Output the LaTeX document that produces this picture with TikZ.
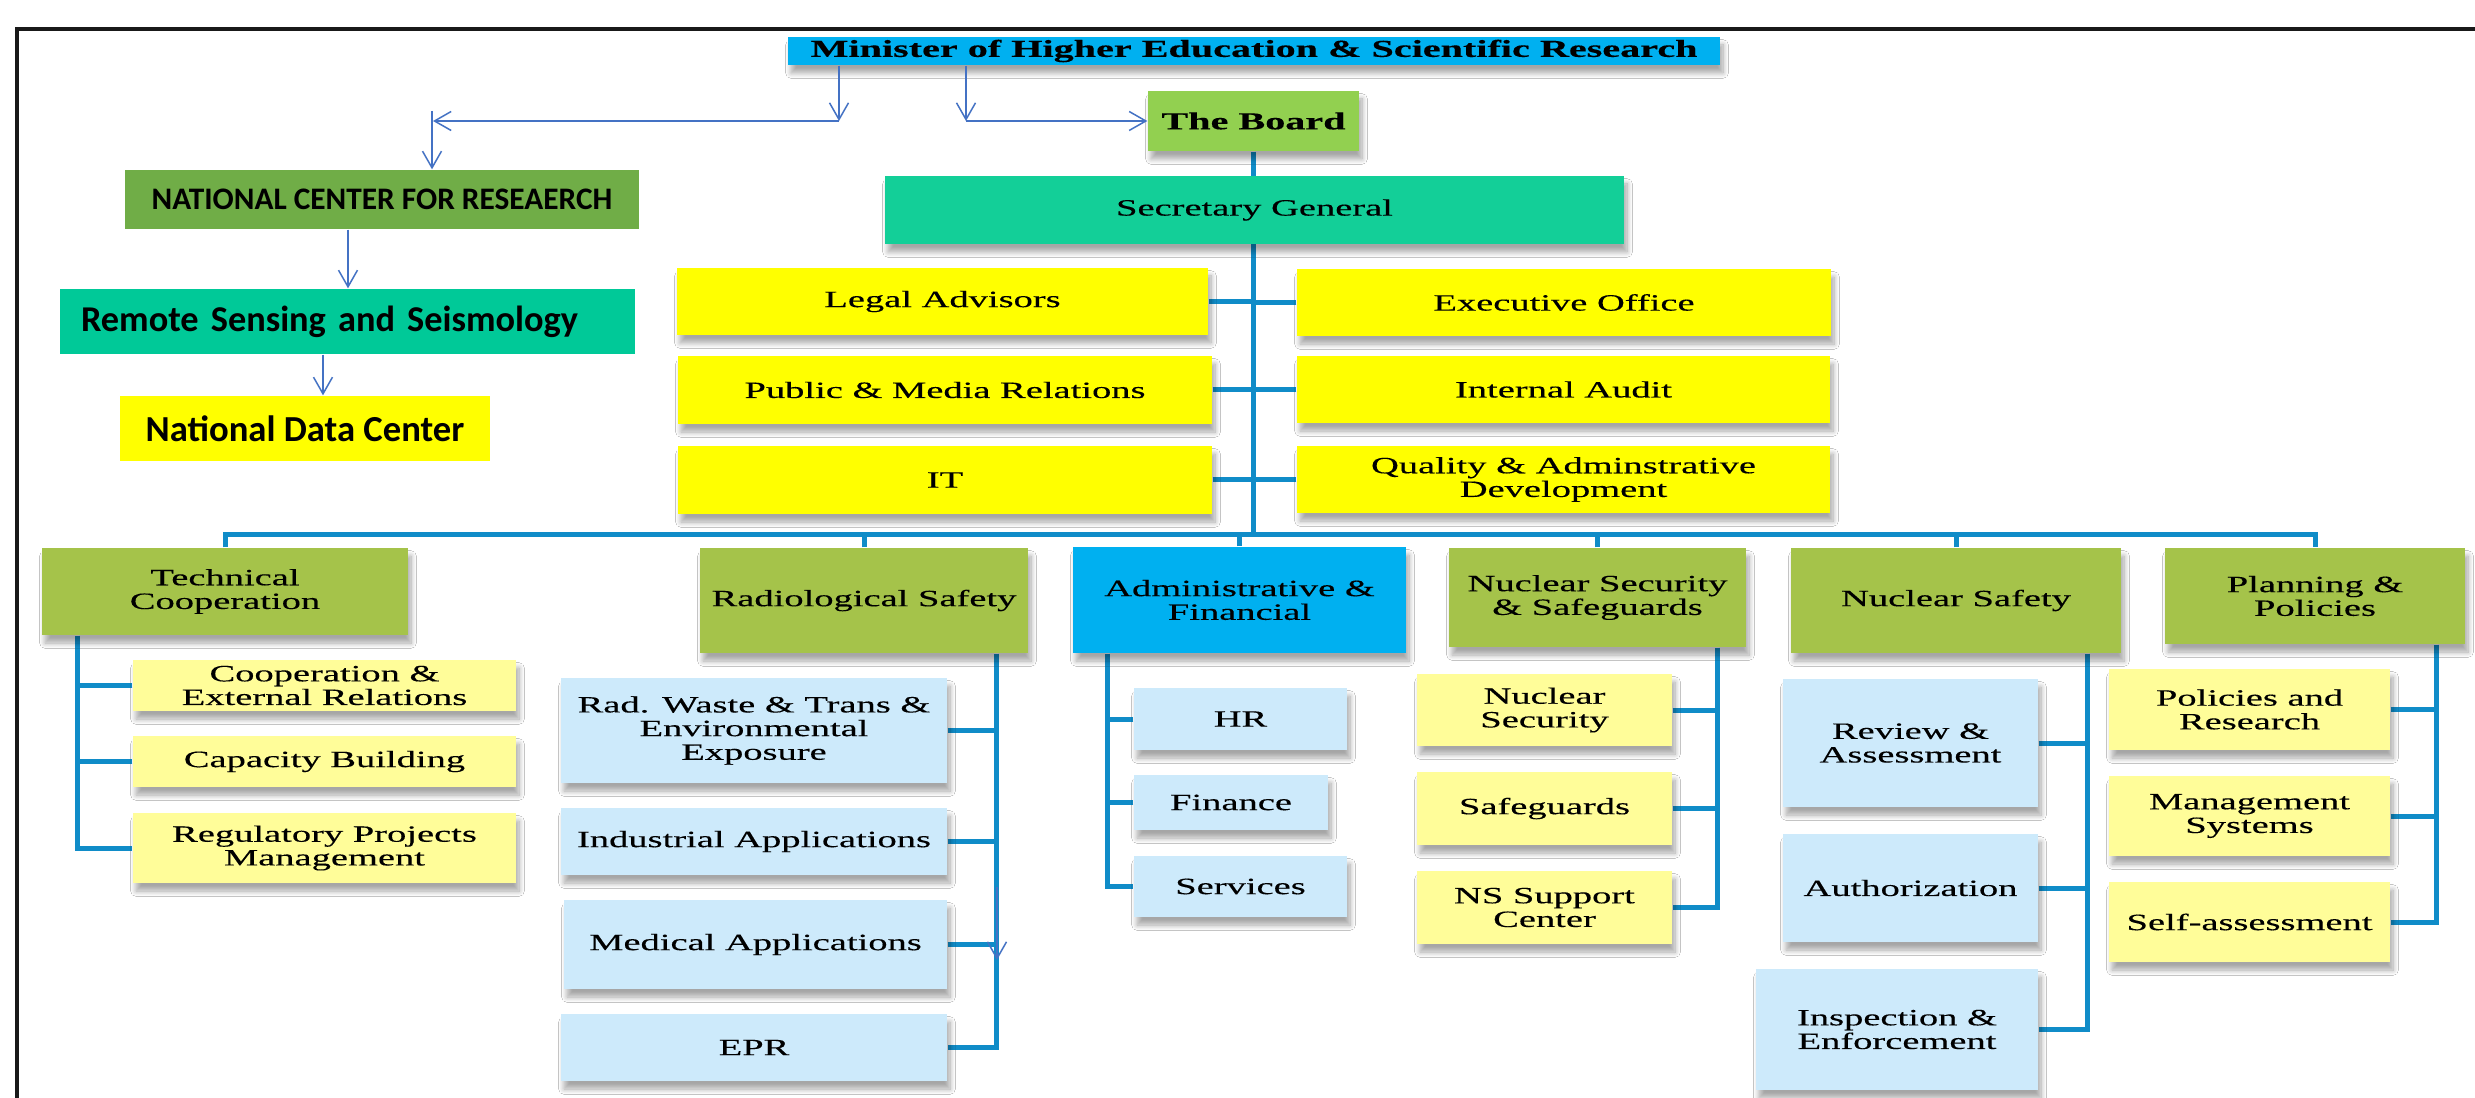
\documentclass[tikz,border=0pt]{standalone}
\usepackage{fontspec}
\newfontfamily\wserif{Liberation Serif}[FakeStretch=1.65, FakeBold=0.3]
\newfontfamily\carlfont{Carlito}
\usetikzlibrary{arrows.meta,backgrounds,shadows.blur}
\definecolor{cyanbox}{HTML}{00B0F0}
\definecolor{boardgreen}{HTML}{92D050}
\definecolor{sgteal}{HTML}{13CF98}
\definecolor{yel}{HTML}{FFFF00}
\definecolor{olive}{HTML}{A5C34A}
\definecolor{lightyel}{HTML}{FFFD99}
\definecolor{lightblue}{HTML}{CDEAFB}
\definecolor{ncrgreen}{HTML}{70AD47}
\definecolor{rssteal}{HTML}{00C998}
\definecolor{lineblue}{HTML}{108CC8}
\definecolor{arrowblue}{HTML}{4472C4}
\newcommand\bx[7]{\node[#2, minimum width={((#5)-(#3))*0.3pt}, minimum height={((#6)-(#4))*0.3pt}] (#1) at ({((#3)+(#5))/2},{((#4)+(#6))/2}) {#7};}
\begin{document}
\begin{tikzpicture}[x=0.3pt,y=-0.3pt,
  box/.style={inner sep=0pt, align=center, text=black, font=\wserif\fontsize{7}{7.1}\selectfont},
  topb/.style={box, font=\wserif\bfseries\fontsize{7.3}{8}\selectfont},
  lbox/.style={inner sep=0pt, align=center, text=black},
  shd/.style={blur shadow={shadow xshift=0.9pt, shadow yshift=-2.4pt, shadow blur steps=8, shadow blur radius=1.6pt, shadow opacity=35}},
  conn/.style={draw=lineblue, line width=1.5pt, line join=miter},
  arr/.style={draw=arrowblue, line width=0.45pt, -{Straight Barb[length=5pt,width=5.7pt]}},
  framel/.style={draw=black!90, line width=1pt}]
\useasboundingbox (0,0) rectangle (2475,1098);
\draw[framel] (17,1098) -- (17,29) -- (2475,29);
% top
\bx{minister}{topb,fill=cyanbox,shd}{788}{37}{1720}{65}{Minister of Higher Education \& Scientific Research}
\bx{board}{topb,fill=boardgreen,shd}{1148}{91}{1359}{151}{The Board}
\bx{sg}{box,fill=sgteal,shd}{885}{176}{1624}{244}{Secretary General}
\bx{legal}{box,fill=yel,shd}{677}{268}{1208}{335}{Legal Advisors}
\bx{pmr}{box,fill=yel,shd}{678}{356}{1212}{424}{Public \& Media Relations}
\bx{it}{box,fill=yel,shd}{678}{446}{1212}{514}{IT}
\bx{exec}{box,fill=yel,shd}{1297}{269}{1831}{336}{Executive Office}
\bx{audit}{box,fill=yel,shd}{1297}{356}{1830}{423}{Internal Audit}
\bx{qad}{box,fill=yel,shd}{1297}{446}{1830}{513}{Quality \& Adminstrative\\Development}
% left
\bx{ncr}{lbox,fill=ncrgreen,font=\carlfont\bfseries\fontsize{9.4}{11}\selectfont}{125}{170}{639}{229}{NATIONAL CENTER FOR RESEAERCH}
\node[lbox, fill=rssteal, font=\carlfont\bfseries\fontsize{10.9}{13}\selectfont, align=left, text width=159.9pt, inner xsep=6.3pt, inner ysep=0pt, minimum height=19.5pt] (rss) at (347.5,321.5) {Remote Sensing and Seismology};
\bx{ndc}{lbox,fill=yel,font=\carlfont\bfseries\fontsize{11}{13}\selectfont}{120}{396}{490}{461}{National Data Center}
% level 2
\bx{tc}{box,fill=olive,shd}{42}{548}{408}{635}{Technical\\Cooperation}
\bx{rs}{box,fill=olive,shd}{700}{548}{1028}{653}{Radiological Safety}
\bx{af}{box,fill=cyanbox,shd}{1073}{547}{1406}{653}{Administrative \&\\Financial}
\bx{nss}{box,fill=olive,shd}{1449}{548}{1746}{647}{Nuclear Security\\\& Safeguards}
\bx{nsaf}{box,fill=olive,shd}{1791}{548}{2121}{653}{Nuclear Safety}
\bx{pp}{box,fill=olive,shd}{2165}{548}{2465}{644}{Planning \&\\Policies}
% children
\bx{coop}{box,fill=lightyel,shd}{133}{660}{516}{711}{Cooperation \&\\External Relations}
\bx{cap}{box,fill=lightyel,shd}{133}{736}{516}{787}{Capacity Building}
\bx{rpm}{box,fill=lightyel,shd}{133}{813}{516}{883}{Regulatory Projects\\Management}
\bx{rw}{box,fill=lightblue,shd}{561}{678}{947}{783}{Rad. Waste \& Trans \&\\Environmental\\Exposure}
\bx{ind}{box,fill=lightblue,shd}{561}{808}{947}{875}{Industrial Applications}
\bx{med}{box,fill=lightblue,shd}{564}{900}{947}{989}{Medical Applications}
\bx{epr}{box,fill=lightblue,shd}{561}{1014}{947}{1081}{EPR}
\bx{hr}{box,fill=lightblue,shd}{1134}{688}{1347}{750}{HR}
\bx{fin}{box,fill=lightblue,shd}{1134}{775}{1328}{830}{Finance}
\bx{srv}{box,fill=lightblue,shd}{1134}{856}{1347}{917}{Services}
\bx{nsec}{box,fill=lightyel,shd}{1417}{674}{1672}{746}{Nuclear\\Security}
\bx{sfg}{box,fill=lightyel,shd}{1417}{772}{1672}{845}{Safeguards}
\bx{nssc}{box,fill=lightyel,shd}{1417}{871}{1672}{944}{NS Support\\Center}
\bx{ra}{box,fill=lightblue,shd}{1783}{679}{2038}{807}{Review \&\\Assessment}
\bx{auth}{box,fill=lightblue,shd}{1783}{834}{2038}{942}{Authorization}
\bx{ie}{box,fill=lightblue,shd}{1756}{969}{2038}{1090}{Inspection \&\\Enforcement}
\bx{prr}{box,fill=lightyel,shd}{2109}{669}{2390}{750}{Policies and\\Research}
\bx{ms}{box,fill=lightyel,shd}{2109}{776}{2390}{856}{Management\\Systems}
\bx{sa}{box,fill=lightyel,shd}{2109}{882}{2390}{962}{Self-assessment}
% connectors
\begin{scope}[on background layer]
\fill[white] (0,0) rectangle (2475,1098);
\coordinate (busy) at (0,535);
\draw[conn] (board.south) -- (board.south |- busy);
\draw[conn] (tc.north) -- (tc.north |- busy) -- (pp.north |- busy) -- (pp.north);
\foreach \n in {rs,af,nss,nsaf} \draw[conn] (\n.north) -- (\n.north |- busy);
\foreach \n in {legal,pmr,it} \draw[conn] (\n.east) -- (\n.east -| board.south);
\foreach \n in {exec,audit,qad} \draw[conn] (\n.west) -- (\n.west -| board.south);
\coordinate (tcx) at (77.5,0);
\draw[conn] (tc.south -| tcx) |- (rpm.west);
\foreach \n in {coop,cap} \draw[conn] (\n.west) -- (\n.west -| tcx);
\coordinate (rsx) at (996,0);
\draw[conn] (rs.south -| rsx) |- (epr.east);
\foreach \n in {rw,ind,med} \draw[conn] (\n.east) -- (\n.east -| rsx);
\coordinate (afx) at (1107,0);
\draw[conn] (af.south -| afx) |- (srv.west);
\foreach \n in {hr,fin} \draw[conn] (\n.west) -- (\n.west -| afx);
\coordinate (nssx) at (1717,0);
\draw[conn] (nss.south -| nssx) |- (nssc.east);
\foreach \n in {nsec,sfg} \draw[conn] (\n.east) -- (\n.east -| nssx);
\coordinate (nsafx) at (2087,0);
\draw[conn] (nsaf.south -| nsafx) |- (ie.east);
\foreach \n in {ra,auth} \draw[conn] (\n.east) -- (\n.east -| nsafx);
\coordinate (ppx) at (2436,0);
\draw[conn] (pp.south -| ppx) |- (sa.east);
\foreach \n in {prr,ms} \draw[conn] (\n.east) -- (\n.east -| ppx);
\end{scope}
% thin arrows
\coordinate (m1) at (839,121);
\coordinate (jl) at (433,121);
\coordinate (jt) at (432,111);
\coordinate (m2) at (966,121);
\coordinate (c6) at (348,0);
\coordinate (c7) at (323,0);
\coordinate (t1) at (997,887);
\coordinate (t2) at (997,960);
\draw[arr] (minister.south -| m1) -- (m1);
\draw[arr] (m1) -- (jl);
\draw[arr] (jt) -- (ncr.north -| jt);
\draw[arr] (minister.south -| m2) -- (m2);
\draw[arr] (m2) -- (board.west);
\draw[arr] (ncr.south -| c6) -- (rss.north -| c6);
\draw[arr] (rss.south -| c7) -- (ndc.north -| c7);
\draw[arr] (t1) -- (t2);
\end{tikzpicture}
\end{document}
